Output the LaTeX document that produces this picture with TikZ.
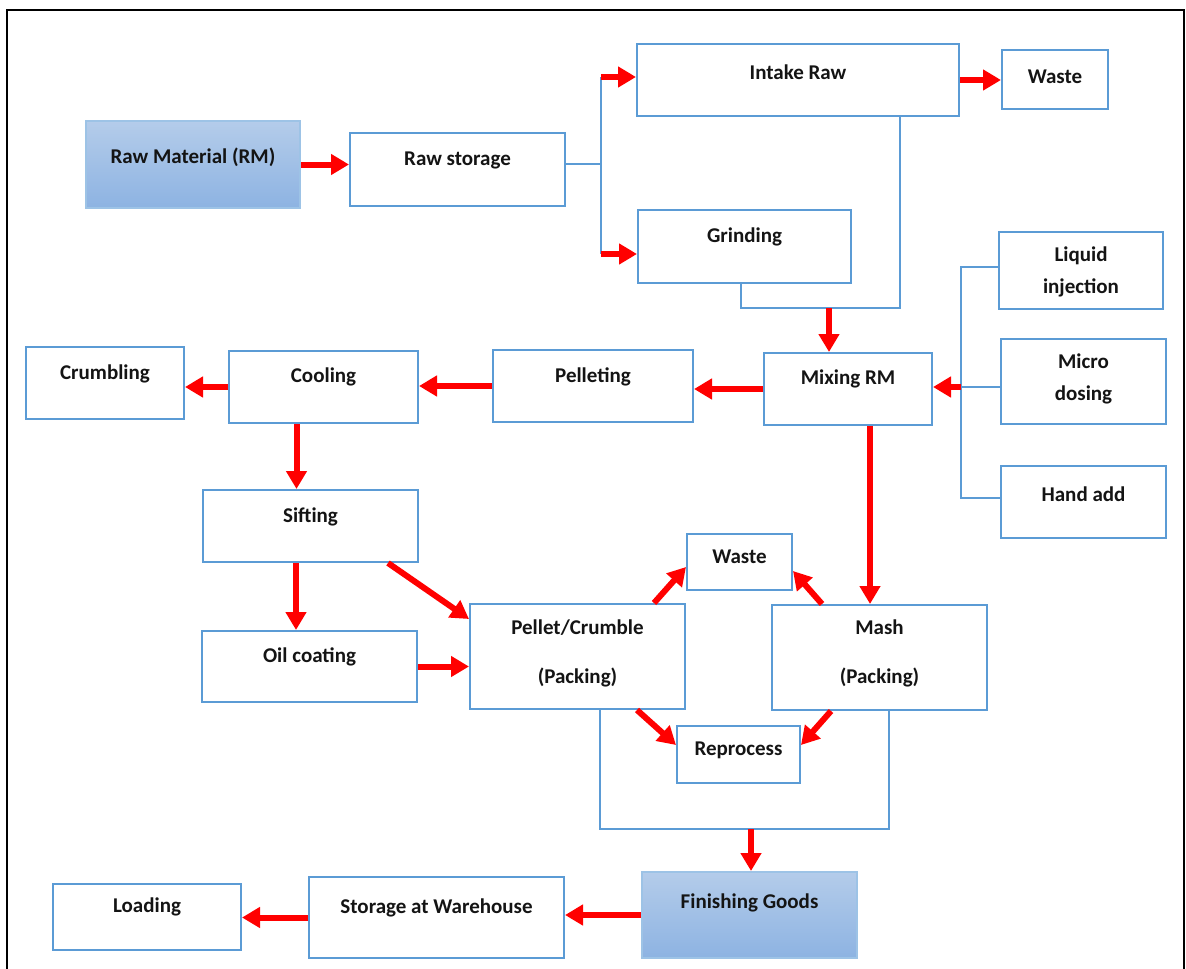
\documentclass[tikz,border=0pt]{standalone}
\usepackage{fontspec}
\setmainfont{Carlito}
\usetikzlibrary{arrows.meta}

\definecolor{boxblue}{HTML}{5B9BD5}
\definecolor{shadeedge}{HTML}{9DC3E6}
\definecolor{gradtop}{HTML}{B4CCEA}
\definecolor{gradbot}{HTML}{8DB3E2}

\tikzset{
  box/.style={draw=boxblue, line width=2pt, fill=white, inner sep=0pt, rectangle},
  shadedbox/.style={draw=shadeedge, line width=2pt, top color=gradtop, bottom color=gradbot, inner sep=0pt, rectangle},
  lbl/.style={font=\bfseries\fontsize{21}{25}\selectfont, inner sep=0pt, align=center, text=black!92},
  flow/.style={draw=red, line width=6pt, -{Triangle[length=18pt,width=20pt]}},
  link/.style={draw=boxblue, line width=2.5pt},
  frame/.style={draw=black, line width=2.5pt},
}

% \flowbox[style]{name}{x1}{y1}{x2}{y2}{text y}{text}
\newcommand{\flowbox}[8][box]{%
  \node[#1, minimum width={(#5)-(#3)}, minimum height={(#6)-(#4)}] (#2) at ({((#3)+(#5))/2},{((#4)+(#6))/2}) {};
  \node[lbl] (#2-text) at ({((#3)+(#5))/2},#7) {#8};
}

\begin{document}
\begin{tikzpicture}[x=1pt,y=-1pt]
\useasboundingbox (0,0) rectangle (1186,969);

% page frame (open at the bottom)
\draw[frame] (7,969) -- (7,10) -- (1184,10) -- (1184,969);

% process boxes
\flowbox[shadedbox]{rmat}{86}{121}{300}{208}{157}{Raw Material (RM)}
\flowbox{rs}{350}{133}{565}{206}{160}{Raw storage}
\flowbox{ir}{637}{44}{959}{116}{72}{Intake Raw}
\flowbox{wt}{1002}{50}{1108}{109}{77}{Waste}
\flowbox{gr}{638}{210}{851}{283}{237}{Grinding}
\flowbox{liq}{999}{232}{1163}{309}{272}{Liquid\\[7pt]injection}
\flowbox{micro}{1001}{339}{1166}{424}{379}{Micro\\[7pt]dosing}
\flowbox{hand}{1001}{466}{1166}{538}{494}{Hand add}
\flowbox{mix}{764}{353}{932}{425}{379}{Mixing RM}
\flowbox{pel}{493}{350}{693}{422}{377}{Pelleting}
\flowbox{cool}{229}{351}{418}{423}{377}{Cooling}
\flowbox{crumb}{26}{347}{184}{419}{374}{Crumbling}
\flowbox{sift}{203}{490}{418}{562}{517}{Sifting}
\flowbox{oil}{202}{631}{417}{702}{657}{Oil coating}
\flowbox{pc}{470}{604}{685}{709}{653}{Pellet/Crumble\\[24pt](Packing)}
\flowbox{wm}{687}{534}{792}{590}{557}{Waste}
\flowbox{mash}{772}{605}{987}{710}{653}{Mash\\[24pt](Packing)}
\flowbox{rep}{677}{726}{800}{783}{750}{Reprocess}
\flowbox[shadedbox]{fg}{642}{872}{857}{958}{903}{Finishing Goods}
\flowbox{sw}{309}{877}{564}{958}{908}{Storage at Warehouse}
\flowbox{load}{53}{884}{241}{950}{907}{Loading}

% junction points of the blue feed lines
\coordinate (bs) at (601,164);
\coordinate (bt) at (601,77);
\coordinate (bb) at (601,254);
\coordinate (mr) at (900,308);
\coordinate (ml) at (741,308);
\coordinate (mm) at (829,308);
\coordinate (rt) at (961,267);
\coordinate (rc) at (961,387);
\coordinate (rb) at (961,498);
\coordinate (jl) at (600,829);
\coordinate (jr) at (889,829);
\coordinate (jm) at (751,829);

% raw material intake
\draw[flow] (rmat.east) -- (rmat.east -| rs.west);
\draw[link] ([yshift=5.5pt]rs.east) -- (bs);
\draw[link] (bt) -- (bb);
\draw[flow] (bt) -- (bt -| ir.west);
\draw[flow] (bb) -- (bb -| gr.west);
\draw[flow] (ir.east) -- (ir.east -| wt.west);

% into mixing
\draw[link] (mr |- ir.south) -- (mr) -- (ml) -- (ml |- gr.south);
\draw[flow] (mm) -- (mm |- mix.north);
\draw[link] (rt -| liq.west) -- (rt) -- (rb) -- (rb -| hand.west);
\draw[link] (rc -| micro.west) -- (rc);
\draw[flow] (rc) -- (rc -| mix.east);

% pellet line
\draw[flow] (mix.west) -- (mix.west -| pel.east);
\draw[flow] (pel.west) -- (pel.west -| cool.east);
\draw[flow] (cool.west) -- (cool.west -| crumb.east);
\draw[flow] ([xshift=-27pt]cool.south) -- ([xshift=-27pt]cool.south |- sift.north);
\draw[flow] ([xshift=-14.5pt]sift.south) -- ([xshift=-14.5pt]sift.south |- oil.north);
\draw[flow] ([xshift=-31pt]sift.south east) -- ([yshift=-16pt]pc.north west);
\draw[flow] (oil.east) -- (oil.east -| pc.west);

% mash line
\draw[flow] ([xshift=22pt]mix.south) -- ([xshift=22pt]mix.south |- mash.north);

% packing outcomes
\draw[flow] ([xshift=-32pt]pc.north east) -- ([yshift=-5pt]wm.west);
\draw[flow] ([xshift=51pt]mash.north west) -- ([yshift=-9pt]wm.east);
\draw[flow] ([xshift=-49pt]pc.south east) -- ([yshift=9.5pt]rep.west);
\draw[flow] ([xshift=60pt]mash.south west) -- ([yshift=9.5pt]rep.east);

% finished goods
\draw[link] (jl |- pc.south) -- (jl) -- (jr) -- (jr |- mash.south);
\draw[flow] (jm) -- (jm |- fg.north);
\draw[flow] (fg.west) -- (fg.west -| sw.east);
\draw[flow] (sw.west) -- (sw.west -| load.east);
\end{tikzpicture}
\end{document}
